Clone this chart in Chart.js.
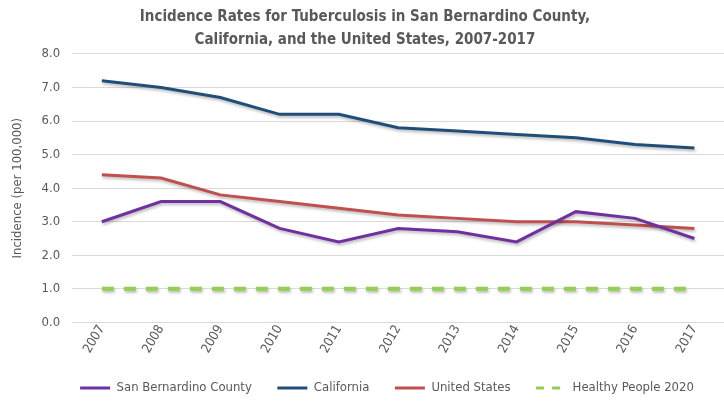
<!DOCTYPE html>
<html>
<head>
<meta charset="utf-8">
<script src="https://cdn.jsdelivr.net/npm/chart.js@4.4.1/dist/chart.umd.min.js"></script>
<style>
  html, body { margin: 0; padding: 0; background: #fff; }
  #wrap { width: 724px; height: 401px; position: relative; }
</style>
</head>
<body>
<div id="wrap"><canvas id="tbChart"></canvas></div>
<script>
// 資料
const years = ['2007', '2008', '2009', '2010', '2011', '2012', '2013', '2014', '2015', '2016', '2017'];
const sanBernardino = [3.0, 3.6, 3.6, 2.8, 2.4, 2.8, 2.7, 2.4, 3.3, 3.1, 2.5];
const california = [7.2, 7.0, 6.7, 6.2, 6.2, 5.8, 5.7, 5.6, 5.5, 5.3, 5.2];
const unitedStates = [4.4, 4.3, 3.8, 3.6, 3.4, 3.2, 3.1, 3.0, 3.0, 2.9, 2.8];
const healthyPeople = [1.0, 1.0, 1.0, 1.0, 1.0, 1.0, 1.0, 1.0, 1.0, 1.0, 1.0];
const yTicks = [0, 1, 2, 3, 4, 5, 6, 7, 8];

const fontFamily = '"Liberation Sans Narrow", "DejaVu Sans Condensed", "Liberation Sans", sans-serif';
const textColor = '#595959';

// 線條陰影
const lineShadow = {
  id: 'lineShadow',
  beforeDatasetsDraw(chart) {
    const ctx = chart.ctx;
    ctx.save();
    ctx.shadowColor = 'rgba(0,0,0,0.28)';
    ctx.shadowBlur = 3;
    ctx.shadowOffsetX = 1;
    ctx.shadowOffsetY = 2;
  },
  afterDatasetsDraw(chart) {
    chart.ctx.restore();
  }
};

// 圖例整列往右、往下挪一點
const shiftLegend = {
  id: 'shiftLegend',
  afterInit(chart) {
    const lg = chart.legend;
    const origFit = lg.fit;
    lg.fit = function () {
      origFit.call(this);
      this.height -= 3.5;
      this.lineWidths[0] -= 44;
    };
  }
};

function series(label, data, color, width, dash) {
  return {
    label: label,
    data: data,
    borderColor: color,
    backgroundColor: color,
    borderWidth: width,
    borderDash: dash || [],
    pointRadius: 0,
    pointHoverRadius: 0,
    pointStyle: 'line',
    tension: 0,
    fill: false
  };
}

const ctx = document.getElementById('tbChart').getContext('2d');
new Chart(ctx, {
  type: 'line',
  data: {
    labels: years,
    datasets: [
      series('San Bernardino County', sanBernardino, '#7030A0', 3),
      series('California', california, '#1F4E79', 3),
      series('United States', unitedStates, '#C0504D', 3),
      series('Healthy People 2020', healthyPeople, '#92D050', 4, [12, 10])
    ]
  },
  options: {
    responsive: true,
    maintainAspectRatio: false,
    animation: false,
    layout: { padding: { left: 6, right: 0, top: 2, bottom: 0 } },
    plugins: {
      title: {
        display: true,
        text: ['Incidence Rates for Tuberculosis in San Bernardino County,', 'California, and the United States, 2007-2017'],
        color: textColor,
        font: { family: fontFamily, size: 15, weight: 'bold', lineHeight: 1.53 },
        padding: { top: 3.5, bottom: 2.5 }
      },
      legend: {
        position: 'bottom',
        labels: {
          usePointStyle: true,
          pointStyleWidth: 30,
          color: textColor,
          font: { family: fontFamily, size: 13 },
          padding: 25.5,
          generateLabels: (chart) => {
            const items = Chart.defaults.plugins.legend.labels.generateLabels(chart);
            items.forEach((item) => {
              const ds = chart.data.datasets[item.datasetIndex];
              item.lineDash = ds.borderDash.length ? [8, 8] : [];
              item.lineWidth = 3;
            });
            return items;
          }
        }
      },
      tooltip: { enabled: false }
    },
    scales: {
      x: {
        offset: true,
        grid: { display: false, drawTicks: false },
        border: { color: '#d9d9d9' },
        ticks: {
          color: textColor,
          font: { family: fontFamily, size: 13 },
          minRotation: 60,
          maxRotation: 60,
          padding: 0
        }
      },
      y: {
        min: 0,
        max: 8,
        afterBuildTicks: (axis) => {
          axis.ticks = yTicks.map((v) => ({ value: v }));
        },
        grid: { color: '#d9d9d9', drawTicks: false },
        border: { display: false },
        title: {
          display: true,
          text: 'Incidence (per 100,000)',
          color: textColor,
          font: { family: fontFamily, size: 13 }
        },
        ticks: {
          color: textColor,
          font: { family: fontFamily, size: 13 },
          padding: 12,
          callback: (v) => Number(v).toFixed(1)
        }
      }
    }
  },
  plugins: [lineShadow, shiftLegend]
});
</script>
</body>
</html>
